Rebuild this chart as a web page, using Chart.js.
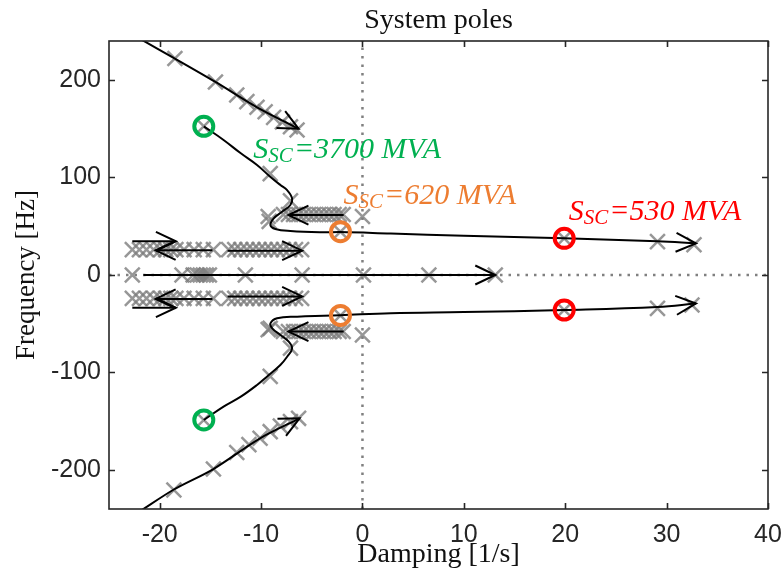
<!DOCTYPE html>
<html><head><meta charset="utf-8">
<script src="https://cdn.jsdelivr.net/npm/chart.js@4/dist/chart.umd.min.js"></script>
<style>html,body{margin:0;padding:0;background:#fff}</style>
</head><body>
<canvas id="c" width="784" height="584"></canvas>
<script>
// ---------- axes ----------
const xTicks = [-20, -10, 0, 10, 20, 30, 40];
const yTicks = [-200, -100, 0, 100, 200];

// ---------- root-locus curves (black) ----------
const branchTop = [[-21.9, 242], [-18.5, 222], [-14.5, 198], [-10.4, 172], [-6.3, 150]];
const branchBottom = [[-21.9, -242], [-18.6, -220], [-14.7, -199], [-10.1, -167.5], [-6.2, -147]];
const locusUpper = [[-15.65, 152.5], [-13.7, 138.5], [-12.0, 124.8], [-10.4, 112.8], [-9.1, 100.8], [-8.1, 92.3], [-7.43, 87], [-6.94, 78.6], [-7.11, 71.8], [-7.93, 64.9], [-8.75, 58.1], [-9.08, 51.3], [-8.59, 47.2], [-7.11, 45.1], [-3.82, 43.8], [-2.17, 44.0], [2.8, 42.5], [10, 40.3], [19.9, 37.6], [29.1, 34.6], [32.9, 32.5]];
const locusLower = [[-15.65, -148.7], [-13.7, -135], [-12.0, -124.8], [-10.4, -112.8], [-9.4, -104], [-8.1, -92.3], [-7.43, -83.8], [-6.94, -75.2], [-7.27, -68.4], [-8.1, -61.5], [-8.9, -54.7], [-9.08, -49.6], [-8.42, -44.4], [-6.45, -42.7], [-3.82, -41.7], [-2.17, -41.2], [2.8, -39.3], [10, -38], [19.9, -35.9], [29.1, -32.8], [32.9, -29.2]];
// straight arrows [start, end]
const arrowRowTopRight1 = [[-22.7, 34.5], [-18.4, 34.5]];
const arrowRowTopLeft = [[-14.8, 25.3], [-20.4, 25.3]];
const arrowRowTopRight2 = [[-13.3, 25], [-5.95, 25]];
const arrowRowBotLeft = [[-14.8, -24.5], [-20.4, -24.5]];
const arrowRowBotRight1 = [[-22.7, -33.5], [-18.4, -33.5]];
const arrowRowBotRight2 = [[-13.3, -22], [-5.95, -22]];
const arrowRow62 = [[-1.85, 61.5], [-7.3, 61.5]];
const arrowRowM58 = [[-1.85, -58], [-7.3, -58]];
const arrowRealAxis = [[-21.6, 0], [13.1, 0]];

// ---------- pole markers (grey x) ----------
const polesBranchTop = [[-18.5, 222], [-14.5, 198], [-12.4, 184.6], [-11.4, 177.8], [-10.4, 172], [-9.6, 167.5], [-8.76, 161.7], [-7.9, 157], [-7.1, 152], [-6.45, 148.7]];
const polesBranchBottom = [[-18.6, -220.5], [-14.7, -199], [-12.4, -182], [-11.2, -174], [-10.1, -167.5], [-9.1, -160.7], [-8.1, -155], [-7.1, -150.4], [-6.3, -147]];
const polesLocus = [[-15.65, 152.5], [-15.65, -148.7], [-9.1, 104], [-7.1, 76], [-9.2, 55], [-9.1, -104], [-7.1, -75], [-9.1, -54.7], [-2.17, 44.4], [-2.17, -41.5], [19.9, 37.6], [19.9, -35.9], [29.1, 34.2], [32.7, 31], [29.1, -34.2], [32.5, -30.8], [0, 60], [0, -61.5]];
const polesRow62X = [-9.3, -7.8, -7.3, -6.8, -6.3, -5.8, -5.3, -4.8, -4.3, -3.8, -3.3, -2.8, -2.3, -1.9];
const polesRow62Y = [60, 62, 62, 62, 62, 62, 62, 62, 62, 62, 62, 62, 62, 62];
const polesRowM58X = [-9.3, -7.8, -7.3, -6.8, -6.3, -5.8, -5.3, -4.8, -4.3, -3.8, -3.3, -2.8, -2.3, -1.9];
const polesRowM58Y = [-56, -58, -58, -58, -58, -58, -58, -58, -58, -58, -58, -58, -58, -58];
const polesRow26X = [-22.7, -22.0, -21.3, -20.6, -19.9, -19.4, -18.9, -18.4, -17.6, -16.6, -15.7, -14.7, -13.2, -12.6, -12.0, -11.4, -10.8, -10.2, -9.6, -9.0, -8.4, -7.8, -7.2, -6.6, -6.0];
const polesRow26Y = 26;
const polesRowM24X = [-22.7, -22.0, -21.3, -20.6, -19.9, -19.4, -18.9, -18.4, -17.6, -16.6, -15.7, -14.7, -13.2, -12.6, -12.0, -11.4, -10.8, -10.2, -9.6, -9.0, -8.4, -7.8, -7.2, -6.6, -6.0];
const polesRowM24Y = -24;
const polesRealX = [-22.7, -17.8, -16.7, -16.3, -16.0, -15.7, -15.4, -15.1, -11.55, -5.95, 0.1, 6.55, 13.1];

// ---------- highlighted operating points ----------
const circlesGreen = [[-15.65, 152.5], [-15.65, -148.7]];
const circlesOrange = [[-2.17, 44.4], [-2.17, -41.5]];
const circlesRed = [[19.9, 37.6], [19.9, -35.9]];

// ---------- labels ----------
const labelTexts = ['=3700 MVA', '=620 MVA', '=530 MVA'];
const labelAnchors = [[-10.76, 120], [-1.88, 72.8], [20.34, 56.4]];

// ---------- zero reference lines ----------
const zeroH = [[-25, 0], [40, 0]];
const zeroV = [[0, -240], [0, 240]];

// ================== build ==================
const GREEN = '#00b050', ORANGE = '#ed7d31', RED = '#ff0000';
const labelColors = [GREEN, ORANGE, RED];
const P = a => a.map(([x, y]) => ({x, y}));
const zipXY = (xs, ys) => xs.map((x, i) => ({x, y: Array.isArray(ys) ? ys[i] : ys}));

const lineDs = (pts, arrow, tension) => ({
  data: P(pts), showLine: true, borderColor: '#000', borderWidth: 2, pointRadius: 0,
  tension: tension || 0, fill: false, arrowHead: arrow, order: 1
});
const poleDs = pts => ({
  data: pts, showLine: false, pointStyle: 'crossRot', pointRadius: 10.5,
  borderColor: 'rgba(125,125,125,0.8)', pointBorderWidth: 2.5, borderWidth: 2.5, order: 2
});
const circDs = (pts, col) => ({
  data: P(pts), showLine: false, pointStyle: 'circle', pointRadius: 9.5,
  borderColor: col, pointBorderWidth: 4, borderWidth: 4, backgroundColor: 'rgba(0,0,0,0)', order: 0
});
const dotDs = pts => ({
  data: P(pts), showLine: true, borderColor: '#808080', borderWidth: 2.5, borderDash: [2.5, 6],
  pointRadius: 0, order: 3
});

const datasets = [
  dotDs(zeroH), dotDs(zeroV),
  poleDs(P(polesBranchTop)), poleDs(P(polesBranchBottom)), poleDs(P(polesLocus)),
  poleDs(zipXY(polesRow62X, polesRow62Y)), poleDs(zipXY(polesRowM58X, polesRowM58Y)),
  poleDs(zipXY(polesRow26X, polesRow26Y)), poleDs(zipXY(polesRowM24X, polesRowM24Y)),
  poleDs(zipXY(polesRealX, 0)),
  lineDs(branchTop, true, 0.3), lineDs(branchBottom, true, 0.3),
  lineDs(locusUpper, true, 0.4), lineDs(locusLower, true, 0.4),
  lineDs(arrowRowTopRight1, true), lineDs(arrowRowTopLeft, true), lineDs(arrowRowTopRight2, true),
  lineDs(arrowRowBotLeft, true), lineDs(arrowRowBotRight1, true), lineDs(arrowRowBotRight2, true),
  lineDs(arrowRow62, true), lineDs(arrowRowM58, true), lineDs(arrowRealAxis, true),
  circDs(circlesGreen, GREEN), circDs(circlesOrange, ORANGE), circDs(circlesRed, RED)
];

const AXIS = '#262626';
const PLOT_RIGHT_MARGIN = 16;

// pin the plot area's right edge (Chart.js otherwise reserves extra room)
const pinPlugin = {
  id: 'pinArea',
  afterLayout(chart) {
    const x = chart.scales.x;
    const right = chart.width - PLOT_RIGHT_MARGIN;
    x.right = right; x.width = right - x.left; x.configure();
    chart.chartArea.right = right; chart.chartArea.width = right - chart.chartArea.left;
    if (chart.titleBlock) { chart.titleBlock.right = right; chart.titleBlock.width = right - chart.titleBlock.left; }
  }
};

const framePlugin = {
  id: 'frameTicks',
  afterDatasetsDraw(chart) {
    const {ctx, chartArea: {left, right, top, bottom}, scales: {x, y}} = chart;
    ctx.save();
    // arrowheads
    chart.data.datasets.forEach((ds, i) => {
      if (!ds.arrowHead) return;
      const pts = chart.getDatasetMeta(i).data;
      const a = pts[pts.length - 1], b = pts[pts.length - 2];
      const ang = Math.atan2(a.y - b.y, a.x - b.x);
      const L = 20, W = 9.5;
      const c = Math.cos(ang), s = Math.sin(ang);
      ctx.beginPath();
      ctx.moveTo(a.x - L * c - W * s, a.y - L * s + W * c);
      ctx.lineTo(a.x, a.y);
      ctx.lineTo(a.x - L * c + W * s, a.y - L * s - W * c);
      ctx.strokeStyle = '#000'; ctx.lineWidth = 2; ctx.lineJoin = 'miter';
      ctx.stroke();
    });
    // labels
    labelTexts.forEach((t, i) => {
      const px = x.getPixelForValue(labelAnchors[i][0]);
      const py = y.getPixelForValue(labelAnchors[i][1]);
      ctx.fillStyle = labelColors[i];
      ctx.textBaseline = 'alphabetic'; ctx.textAlign = 'left';
      ctx.font = 'italic 30px "Liberation Serif"';
      ctx.fillText('S', px, py);
      let w = ctx.measureText('S').width;
      ctx.font = 'italic 21px "Liberation Serif"';
      ctx.fillText('SC', px + w, py + 4);
      w += ctx.measureText('SC').width;
      ctx.font = 'italic 30px "Liberation Serif"';
      ctx.fillText(t, px + w + 1, py);
    });
    // frame + inward ticks
    ctx.strokeStyle = AXIS; ctx.lineWidth = 1.6;
    ctx.beginPath();
    x.ticks.forEach(t => {
      const p = Math.round(x.getPixelForValue(t.value)) + 0.5;
      ctx.moveTo(p, bottom); ctx.lineTo(p, bottom - 6);
      ctx.moveTo(p, top); ctx.lineTo(p, top + 6);
    });
    y.ticks.forEach(t => {
      const p = Math.round(y.getPixelForValue(t.value)) + 0.5;
      ctx.moveTo(left, p); ctx.lineTo(left + 6, p);
      ctx.moveTo(right, p); ctx.lineTo(right - 6, p);
    });
    ctx.stroke();
    ctx.strokeRect(left, top, right - left, bottom - top);
    ctx.restore();
  }
};

const tickFont = {family: '"Liberation Sans", Arial, sans-serif', size: 25};
const serif = {family: '"Liberation Serif", serif', size: 28, lineHeight: '31px', weight: 'normal'};
const serifY = {family: '"Liberation Serif", serif', size: 27, lineHeight: '31px', weight: 'normal'};

new Chart(document.getElementById('c'), {
  type: 'scatter',
  data: {datasets},
  options: {
    responsive: false, animation: false, devicePixelRatio: 1,
    layout: {autoPadding: false, padding: {left: 0, right: 16, top: 0, bottom: 0}},
    plugins: {
      legend: {display: false}, tooltip: {enabled: false},
      title: {display: true, fullSize: false, text: 'System poles', color: '#111', font: serif, padding: {top: 5, bottom: 5}}
    },
    scales: {
      x: {
        type: 'linear', min: -25, max: 40,
        afterBuildTicks: s => { s.ticks = xTicks.map(v => ({value: v})); },
        afterFit: s => { s.height = 75; },
        grid: {display: false, drawTicks: false}, border: {display: false},
        ticks: {font: tickFont, color: AXIS, padding: 11, maxRotation: 0},
        title: {display: true, text: 'Damping [1/s]', color: '#111', font: serif, padding: {top: 0, bottom: 14}}
      },
      y: {
        type: 'linear', min: -240, max: 240,
        afterBuildTicks: s => { s.ticks = yTicks.map(v => ({value: v})); },
        afterFit: s => { s.width = 109; },
        grid: {display: false, drawTicks: false}, border: {display: false},
        ticks: {font: tickFont, color: AXIS, padding: 8},
        title: {display: true, text: 'Frequency [Hz]', color: '#111', font: serifY, padding: {top: 11, bottom: 0}}
      }
    }
  },
  plugins: [pinPlugin, framePlugin]
});
</script>
</body></html>
